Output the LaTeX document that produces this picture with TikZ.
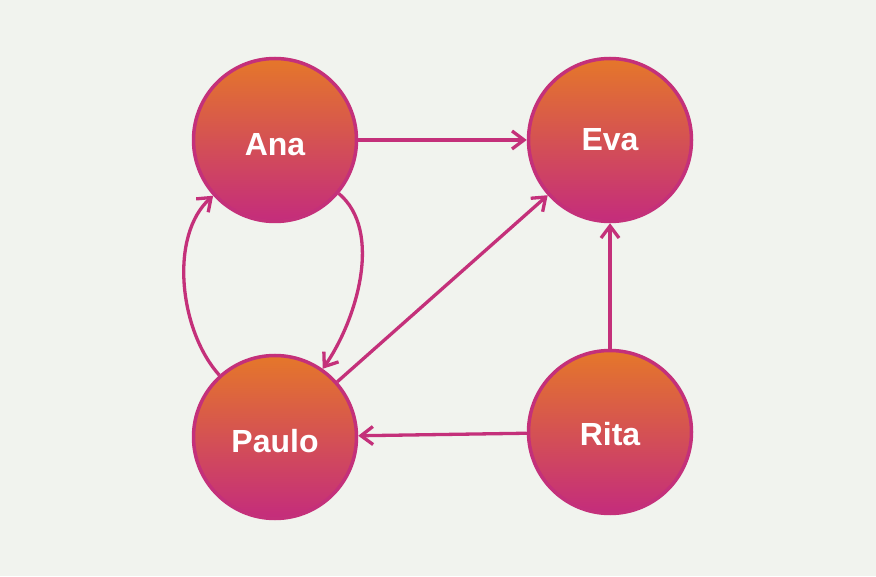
\documentclass[tikz,border=0pt]{standalone}
\usepackage{fontspec}
\setmainfont{Liberation Sans}
\usetikzlibrary{arrows.meta}
\definecolor{bg}{HTML}{F1F3EE}
\definecolor{topc}{HTML}{E5772A}
\definecolor{botc}{HTML}{C42C7C}
\definecolor{edge}{HTML}{C4307A}
\tikzset{
  person/.style={circle, minimum size=163pt, inner sep=0pt, draw=edge, line width=3.5pt,
    top color=topc, bottom color=botc, text=white, text height=23pt, text depth=0pt,
    font=\fontsize{32}{36}\selectfont\bfseries},
  link/.style={draw=edge, line width=3.3pt, -{Straight Barb[length=12pt,width=18pt,line width=3.3pt]}}
}
\begin{document}
\begin{tikzpicture}[x=1pt,y=1pt]
\fill[bg] (0,0) rectangle (876,576);
\useasboundingbox (0,0) rectangle (876,576);
\node[person] (ana) at (275,436) {\raisebox{-4pt}{Ana}};
\node[person] (eva) at (610,436) {\raisebox{1pt}{Eva}};
\node[person] (paulo) at (275,139) {\raisebox{-4pt}{Paulo}};
\node[person] (rita) at (610,144) {\raisebox{-2pt}{Rita}};
\draw[link] (ana) -- (eva);
\draw[link] (rita) -- (eva);
\draw[link] (rita) -- (paulo);
\draw[link] (paulo) -- (eva);
\draw[link] (ana.-40) to[out=-40,in=55,looseness=0.85] (paulo.55);
\draw[link] (paulo.132) to[out=132,in=222,looseness=0.85] (ana.222);
\end{tikzpicture}
\end{document}
